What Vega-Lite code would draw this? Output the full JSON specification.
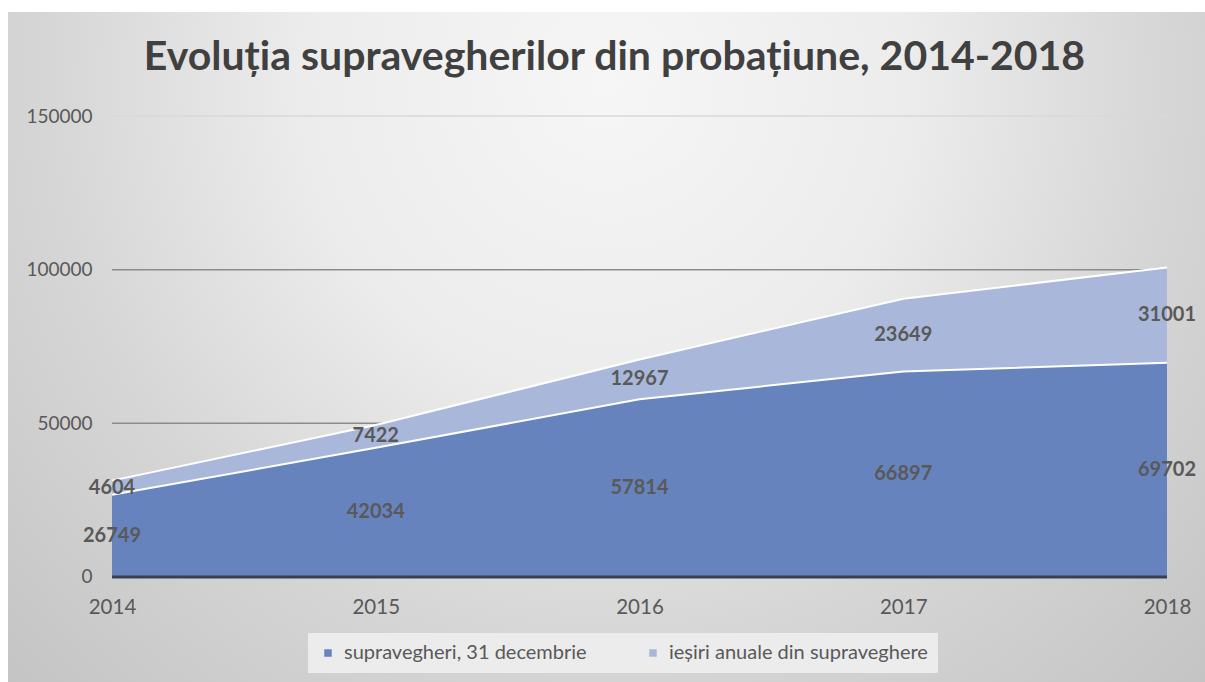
{
  "$schema": "https://vega.github.io/schema/vega-lite/v6.json",
  "width": 1197,
  "height": 670,
  "autosize": {"type": "none"},
  "padding": {"left": 8, "top": 12, "right": 0, "bottom": 0},
  "background": "#ffffff",
  "config": {
    "font": "Lato",
    "view": {
      "stroke": null,
      "fill": {
        "gradient": "radial",
        "x1": 0.5, "y1": 0.28, "r1": 0,
        "x2": 0.5, "y2": 0.28, "r2": 0.85,
        "stops": [
          {"offset": 0, "color": "#f6f6f6"},
          {"offset": 0.3, "color": "#ececec"},
          {"offset": 0.55, "color": "#d6d6d6"},
          {"offset": 0.85, "color": "#c3c3c3"},
          {"offset": 1, "color": "#bcbcbc"}
        ]
      }
    },
    "axisX": {
      "title": null, "format": "d",
      "offset": -85, "ticks": false, "tickSize": 0, "domain": false, "grid": false,
      "labelPadding": 0, "labelBaseline": "top", "labelFlush": false, "labelOverlap": false,
      "labelFont": "Lato", "labelFontSize": 20.5, "labelColor": "#595959"
    },
    "axisY": {
      "title": null, "format": "d",
      "offset": -84, "ticks": false, "tickSize": 0, "domain": false, "grid": false,
      "labelPadding": 0, "labelFlush": false, "labelOverlap": false,
      "labelFont": "Lato", "labelFontSize": 19, "labelColor": "#595959"
    }
  },
  "title": {
    "text": "Evoluția supravegherilor din probațiune, 2014-2018",
    "font": "Lato",
    "fontSize": 41,
    "fontWeight": "bold",
    "color": "#404040",
    "anchor": "middle",
    "frame": "group",
    "baseline": "alphabetic",
    "offset": -99,
    "dx": 8
  },
  "datasets": {
    "main": [
      {"year": 2014, "series": "supravegheri, 31 decembrie", "value": 26749},
      {"year": 2014, "series": "ieșiri anuale din supraveghere", "value": 4604},
      {"year": 2015, "series": "supravegheri, 31 decembrie", "value": 42034},
      {"year": 2015, "series": "ieșiri anuale din supraveghere", "value": 7422},
      {"year": 2016, "series": "supravegheri, 31 decembrie", "value": 57814},
      {"year": 2016, "series": "ieșiri anuale din supraveghere", "value": 12967},
      {"year": 2017, "series": "supravegheri, 31 decembrie", "value": 66897},
      {"year": 2017, "series": "ieșiri anuale din supraveghere", "value": 23649},
      {"year": 2018, "series": "supravegheri, 31 decembrie", "value": 69702},
      {"year": 2018, "series": "ieșiri anuale din supraveghere", "value": 31001}
    ],
    "grid": [{"v": 50000}, {"v": 100000}, {"v": 150000}]
  },
  "layer": [
    {
      "data": {"name": "grid"},
      "mark": {"type": "rule", "strokeWidth": 1.5},
      "encoding": {
        "x": {"datum": 2014, "type": "quantitative", "scale": {"domain": [2013.60569, 2018.14408], "nice": false, "zero": false}, "axis": {"title": null, "values": [2014, 2015, 2016, 2017, 2018]}},
        "x2": {"datum": 2018},
        "y": {"field": "v", "type": "quantitative", "scale": {"domain": [-34164.9, 183839.5], "nice": false, "zero": false}, "axis": {"title": null, "values": [0, 50000, 100000, 150000]}},
        "color": {"condition": {"test": "datum.v === 150000", "value": "#d8d8d8"}, "value": "#8c8c8c"}
      }
    },
    {
      "data": {"name": "main"},
      "transform": [
        {"stack": "value", "groupby": ["year"], "sort": [{"field": "series", "order": "descending"}], "as": ["y0", "y1"]}
      ],
      "mark": {"type": "area", "opacity": 1},
      "encoding": {
        "x": {"field": "year", "type": "quantitative", "scale": {"domain": [2013.60569, 2018.14408], "nice": false, "zero": false}, "axis": {"title": null, "values": [2014, 2015, 2016, 2017, 2018]}},
        "y": {"field": "y1", "type": "quantitative", "scale": {"domain": [-34164.9, 183839.5], "nice": false, "zero": false}, "axis": {"title": null, "values": [0, 50000, 100000, 150000]}},
        "y2": {"field": "y0"},
        "color": {
          "field": "series", "type": "nominal",
          "scale": {
            "domain": ["supravegheri, 31 decembrie", "ieșiri anuale din supraveghere"],
            "range": ["#6783bd", "#a9b8da"]
          },
          "legend": {
            "title": null, "orient": "none", "legendX": 300, "legendY": 621,
            "direction": "horizontal", "symbolType": "square", "symbolSize": 56, "symbolStrokeWidth": 0,
            "labelFont": "Lato", "labelFontSize": 20, "labelColor": "#595959", "labelOffset": 6, "labelLimit": 500,
            "fillColor": "#ececec", "padding": 10, "columnPadding": 56
          }
        }
      }
    },
    {
      "data": {"name": "main"},
      "transform": [
        {"stack": "value", "groupby": ["year"], "sort": [{"field": "series", "order": "descending"}], "as": ["y0", "y1"]}
      ],
      "mark": {"type": "line", "color": "#ffffff", "strokeWidth": 2},
      "encoding": {
        "x": {"field": "year", "type": "quantitative", "scale": {"domain": [2013.60569, 2018.14408], "nice": false, "zero": false}, "axis": {"title": null, "values": [2014, 2015, 2016, 2017, 2018]}},
        "y": {"field": "y1", "type": "quantitative", "scale": {"domain": [-34164.9, 183839.5], "nice": false, "zero": false}, "axis": {"title": null, "values": [0, 50000, 100000, 150000]}},
        "detail": {"field": "series", "type": "nominal"}
      }
    },
    {
      "data": {"values": [{"v": 0}]},
      "mark": {"type": "rule", "color": "#3a3f4f", "strokeWidth": 3},
      "encoding": {
        "x": {"datum": 2014, "type": "quantitative", "scale": {"domain": [2013.60569, 2018.14408], "nice": false, "zero": false}, "axis": {"title": null, "values": [2014, 2015, 2016, 2017, 2018]}},
        "x2": {"datum": 2018},
        "y": {"field": "v", "type": "quantitative", "scale": {"domain": [-34164.9, 183839.5], "nice": false, "zero": false}, "axis": {"title": null, "values": [0, 50000, 100000, 150000]}}
      }
    },
    {
      "data": {"name": "main"},
      "transform": [
        {"stack": "value", "groupby": ["year"], "sort": [{"field": "series", "order": "descending"}], "as": ["y0", "y1"]},
        {"calculate": "(datum.y0 + datum.y1) / 2", "as": "ym"}
      ],
      "mark": {"type": "text", "font": "Lato", "fontSize": 20, "fontWeight": "bold", "color": "#595959", "align": "center", "baseline": "middle"},
      "encoding": {
        "x": {"field": "year", "type": "quantitative", "scale": {"domain": [2013.60569, 2018.14408], "nice": false, "zero": false}, "axis": {"title": null, "values": [2014, 2015, 2016, 2017, 2018]}},
        "y": {"field": "ym", "type": "quantitative", "scale": {"domain": [-34164.9, 183839.5], "nice": false, "zero": false}, "axis": {"title": null, "values": [0, 50000, 100000, 150000]}},
        "text": {"field": "value", "type": "quantitative", "format": "d"}
      }
    }
  ]
}
